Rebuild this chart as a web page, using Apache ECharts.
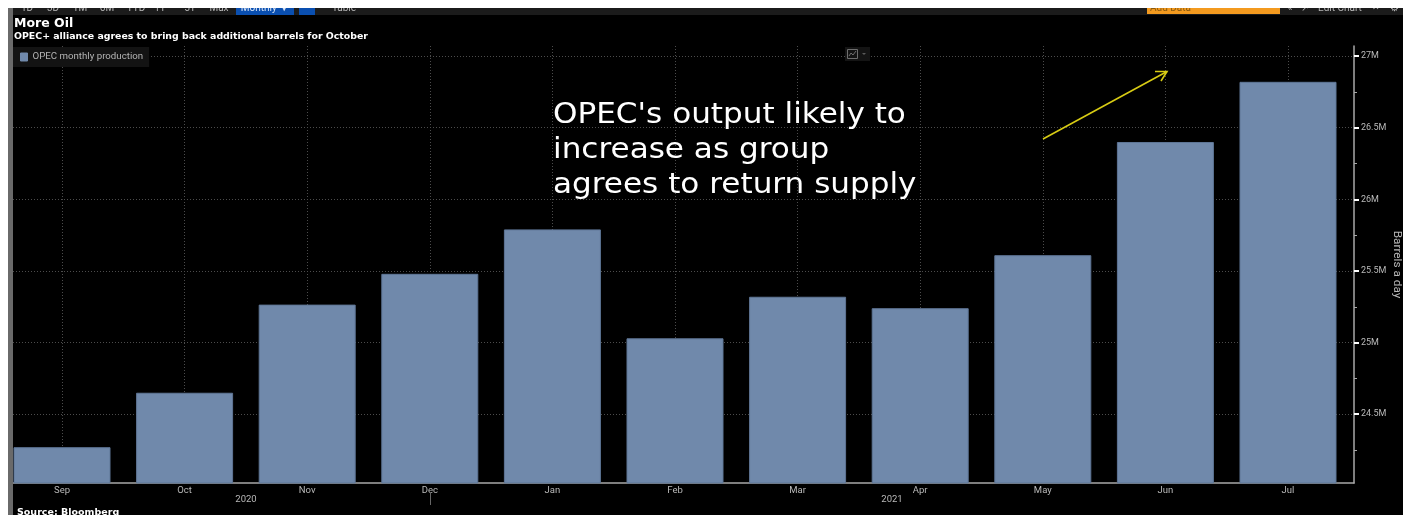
<!DOCTYPE html>
<html>
<head>
<meta charset="utf-8">
<style>html,body{margin:0;padding:0;background:#fff;overflow:hidden}#c{width:1411px;height:515px}</style>
<script src="https://cdn.jsdelivr.net/npm/echarts@6/dist/echarts.min.js"></script>
</head>
<body>
<div id="c"></div>
<script>
// OPEC monthly production, barrels a day (millions)
const months = ['Sep','Oct','Nov','Dec','Jan','Feb','Mar','Apr','May','Jun','Jul'];
const production = [24.27,24.65,25.265,25.48,25.79,25.03,25.32,25.24,25.61,26.4,26.82];
const seriesName = 'OPEC monthly production';
const majorTicks = [24.5,25,25.5,26,26.5,27];
const minorTicks = [24.25,24.75,25.25,25.75,26.25,26.75];
const yearLabels = [['2020',246],['2021',892]];
const rangeButtons = [['1D',27],['3D',53],['1M',80],['6M',107],['YTD',136],['1Y',160],['5Y',190],['Max',219]];
const noteLines = ["OPEC's output likely to","increase as group","agrees to return supply"];

const UI = 'Roboto, "Liberation Sans", sans-serif';
const WIDE = '"DejaVu Sans", sans-serif';
const yMin = 24.02, yMax = 27.07;
const plotTop = 46, plotBottom = 515 - 483;

const chart = echarts.init(document.getElementById('c'), null, {renderer:'canvas'});

function txt(text, x, y, font, fill, align) {
  return {type:'text', z:20, style:{text, x, y, font, fill, align:align||'left', verticalAlign:'middle'}};
}
function box(x, y, width, height, fill, z) {
  return {type:'rect', z:z||15, shape:{x,y,width,height}, style:{fill}};
}

const graphic = [
  // toolbar strip and its controls, cut off by the page margin above
  box(13,8,1390,7,'#1b1b1b',10),
  box(236,8,58,7,'#0a4fb0',11),
  box(299,8,16,7,'#0a4fb0',11),
  box(1147,8,133,6,'#f39a1f',11),
  ...rangeButtons.map(b => txt(b[0], b[1], 8, '10px '+UI, '#b5b5b5', 'center')),
  txt('Monthly ▼', 265, 8, '10px '+UI, '#d7e4f7', 'center'),
  txt('Table', 344, 8, '10px '+UI, '#b5b5b5', 'center'),
  txt('Add Data', 1150, 8, '10px '+UI, '#8a5a10'),
  txt('«', 1290, 8, '10px '+UI, '#b5b5b5', 'center'),
  txt('↗', 1305, 8, '10px '+UI, '#b5b5b5', 'center'),
  txt('Edit Chart', 1340, 8, '10px '+UI, '#b5b5b5', 'center'),
  txt('✕', 1376, 8, '9px '+UI, '#b5b5b5', 'center'),
  txt('⚙', 1394, 8, '10px '+UI, '#b5b5b5', 'center'),

  // headings
  txt('More Oil', 14, 24, 'bold 12.5px '+WIDE, '#ffffff'),
  txt('OPEC+ alliance agrees to bring back additional barrels for October', 14, 36.5, 'bold 9.4px '+WIDE, '#ffffff'),
  txt('Source: Bloomberg', 17, 513, 'bold 9.5px '+WIDE, '#ffffff'),

  // chart-type switcher
  box(845,47,25,14,'#141414',5),
  {type:'rect', z:6, shape:{x:847.5,y:49.5,width:10,height:9}, style:{fill:'none',stroke:'#6e6e6e',lineWidth:1}},
  {type:'polyline', z:6, shape:{points:[[849,56],[851,53],[853,55],[856,51]]}, style:{fill:'none',stroke:'#6e6e6e',lineWidth:1}},
  {type:'polygon', z:6, shape:{points:[[862,53],[866,53],[864,55]]}, style:{fill:'#5a5a5a'}},

  // annotation, widened to the face used on the terminal
  ...noteLines.map((l,i) => ({
    type:'text', z:20, x:553, y:116 + i*35, scaleX:1.13,
    style:{text:l, x:0, y:0, font:'27.5px '+WIDE, fill:'#ffffff', align:'left', verticalAlign:'middle'}
  })),
  {type:'line', z:20, shape:{x1:1043,y1:139,x2:1167,y2:71.5}, style:{stroke:'#d8cc14',lineWidth:1.6}},
  {type:'polyline', z:20, shape:{points:[[1155,71.5],[1167,71.5],[1161,81]]}, style:{fill:'none',stroke:'#d8cc14',lineWidth:1.6}},

  // year row under the month labels
  ...yearLabels.map(y => txt(y[0], y[1], 500, '9.5px '+UI, '#b9b9b9', 'center')),
  {type:'line', z:20, shape:{x1:430.5,y1:492,x2:430.5,y2:505}, style:{stroke:'#666',lineWidth:1}},

  // page margins
  box(0,0,1411,8,'#ffffff',30),
  box(0,0,8,515,'#ffffff',30),
  box(8,8,5,507,'#6a6a6a',30),
  box(1403,0,8,515,'#ffffff',30)
];

const option = {
  animation:false,
  backgroundColor:'#000000',
  textStyle:{fontFamily:UI},
  // grid 0 holds the bars, grid 1 carries the full-width frame and value scale
  grid:[
    {left:0.7, right:1411-1349.3, top:plotTop, bottom:plotBottom, outerBoundsMode:'none'},
    {left:13, right:1411-1354, top:plotTop, bottom:plotBottom, outerBoundsMode:'none'}
  ],
  legend:{
    left:13, top:47, padding:[5,6,5,7], itemGap:0,
    itemWidth:7, itemHeight:8, icon:'rect',
    itemStyle:{color:'#7089ab',borderColor:'#7089ab',borderWidth:1},
    backgroundColor:'#131313',
    textStyle:{color:'#b4b4b4',fontSize:9.7,fontFamily:UI},
    data:[seriesName]
  },
  xAxis:[
    {type:'category', gridIndex:0, data:months, boundaryGap:true,
      axisLine:{show:false},
      axisTick:{alignWithLabel:true,length:3,lineStyle:{color:'#bdbdbd'}},
      axisLabel:{color:'#b9b9b9',fontSize:9.5,margin:3,interval:0},
      splitLine:{show:true,alignWithLabel:true,interval:0,lineStyle:{color:'#4c4c4c',type:[1,2],width:1}}
    },
    {type:'value', gridIndex:1, min:0, max:1, show:true,
      axisLine:{show:true,onZero:false,lineStyle:{color:'#a8a8a8',width:1.5}},
      axisTick:{show:false}, axisLabel:{show:false}, splitLine:{show:false}
    }
  ],
  yAxis:[
    // bar scale; its ticks land on the frame edge and mark the quarter-millions
    {type:'value', gridIndex:0, min:yMin, max:yMax, position:'right', offset:4.7,
      axisLine:{show:false},
      axisTick:{show:true,length:3,customValues:minorTicks,lineStyle:{color:'#a8a8a8',width:1}},
      axisLabel:{show:false}, splitLine:{show:false}
    },
    {type:'value', gridIndex:1, min:yMin, max:yMax, position:'right',
      name:'Barrels a day', nameLocation:'middle', nameRotate:-90, nameGap:37, nameMoveOverlap:false,
      nameTextStyle:{color:'#b9b9b9',fontSize:11.8,fontFamily:UI},
      axisLine:{show:true,onZero:false,lineStyle:{color:'#a8a8a8',width:1.5}},
      axisTick:{show:true,length:5,customValues:majorTicks,lineStyle:{color:'#ffffff',width:2}},
      axisLabel:{color:'#b9b9b9',fontSize:9,margin:7,
        customValues:majorTicks,
        formatter:v => (+v.toFixed(1)) + 'M'},
      splitLine:{show:true,lineStyle:{color:'#4c4c4c',type:[1,2],width:1}}
    }
  ],
  series:[{
    name:seriesName, type:'bar', xAxisIndex:0, yAxisIndex:0,
    data:production, barWidth:97, z:3,
    itemStyle:{color:'#7089ab',borderColor:'#5f7696',borderWidth:1}
  }],
  graphic
};
chart.setOption(option);
</script>
</body>
</html>
